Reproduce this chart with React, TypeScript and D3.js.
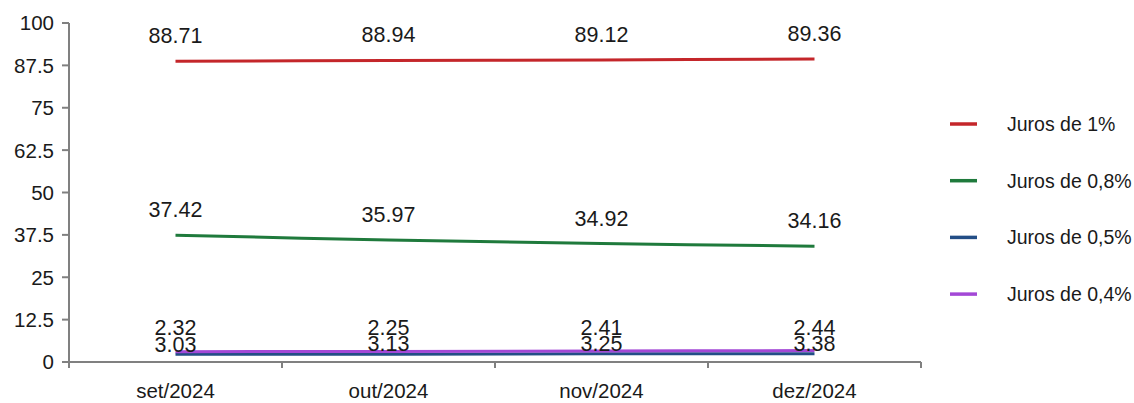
import React from "react";
import * as d3 from "d3";

const categories = ["set/2024", "out/2024", "nov/2024", "dez/2024"];
const seriesNames = ["Juros de 1%", "Juros de 0,8%", "Juros de 0,5%", "Juros de 0,4%"];
const juros1 = [88.71, 88.94, 89.12, 89.36];
const juros08 = [37.42, 35.97, 34.92, 34.16];
const juros05 = [2.32, 2.25, 2.41, 2.44];
const juros04 = [3.03, 3.13, 3.25, 3.38];
const yTicks = [0, 12.5, 25, 37.5, 50, 62.5, 75, 87.5, 100];
const colors = ["#c4262a", "#1f7a3c", "#234e86", "#a348d6"];
const labelOffsets = [-18, -18, -19, 0];

const W = 1134;
const H = 403;
const FONT = "'Liberation Sans', Arial, sans-serif";

export default function App() {
  const x = d3.scaleBand<string>().domain(categories).range([69, 921]);
  const y = d3.scaleLinear().domain([0, 100]).range([362, 23]);
  const series = [juros1, juros08, juros05, juros04];
  const line = d3
    .line<number>()
    .x((_, i) => (x(categories[i]) as number) + x.bandwidth() / 2)
    .y((d) => y(d))
    .curve(d3.curveCatmullRom.alpha(0.5));
  const bandTicks = [...categories.map((c) => x(c) as number), 921];

  return (
    <svg
      width={W}
      height={H}
      style={{ position: "absolute", left: 0, top: 0, background: "#fff" }}
      fontFamily={FONT}
    >
      {/* y axis */}
      <line x1={69} x2={69} y1={y(100)} y2={y(0)} stroke="#808080" strokeWidth={2} />
      {yTicks.map((t) => (
        <g key={t}>
          <line x1={62} x2={69} y1={y(t)} y2={y(t)} stroke="#808080" strokeWidth={2} />
          <text x={54} y={y(t)} dy="0.36em" textAnchor="end" fontSize={20.5} fill="#1a1a1a">
            {t}
          </text>
        </g>
      ))}
      {/* x axis */}
      <line x1={69} x2={921} y1={y(0)} y2={y(0)} stroke="#808080" strokeWidth={2} />
      {bandTicks.map((bx, i) => (
        <line key={i} x1={bx} x2={bx} y1={y(0)} y2={y(0) + 6} stroke="#808080" strokeWidth={2} />
      ))}
      {categories.map((c) => (
        <text
          key={c}
          x={(x(c) as number) + x.bandwidth() / 2}
          y={398}
          textAnchor="middle"
          fontSize={20.5}
          fill="#1a1a1a"
        >
          {c}
        </text>
      ))}
      {/* lines */}
      {series.map((s, si) => (
        <path key={si} d={line(s) || ""} fill="none" stroke={colors[si]} strokeWidth={3} />
      ))}
      {/* labels */}
      {series.map((s, si) =>
        s.map((v, i) => (
          <text
            key={si + "-" + i}
            x={(x(categories[i]) as number) + x.bandwidth() / 2}
            y={y(v) + labelOffsets[si]}
            textAnchor="middle"
            fontSize={21.5}
            fill="#1a1a1a"
          >
            {v.toFixed(2)}
          </text>
        ))
      )}
      {/* legend */}
      {seriesNames.map((n, i) => (
        <g key={n} transform={`translate(0, ${124 + i * 56.7})`}>
          <line x1={950} x2={977} y1={0} y2={0} stroke={colors[i]} strokeWidth={3.5} />
          <text x={1007} y={0} dy="0.36em" fontSize={19.5} fill="#1a1a1a">
            {n}
          </text>
        </g>
      ))}
    </svg>
  );
}
